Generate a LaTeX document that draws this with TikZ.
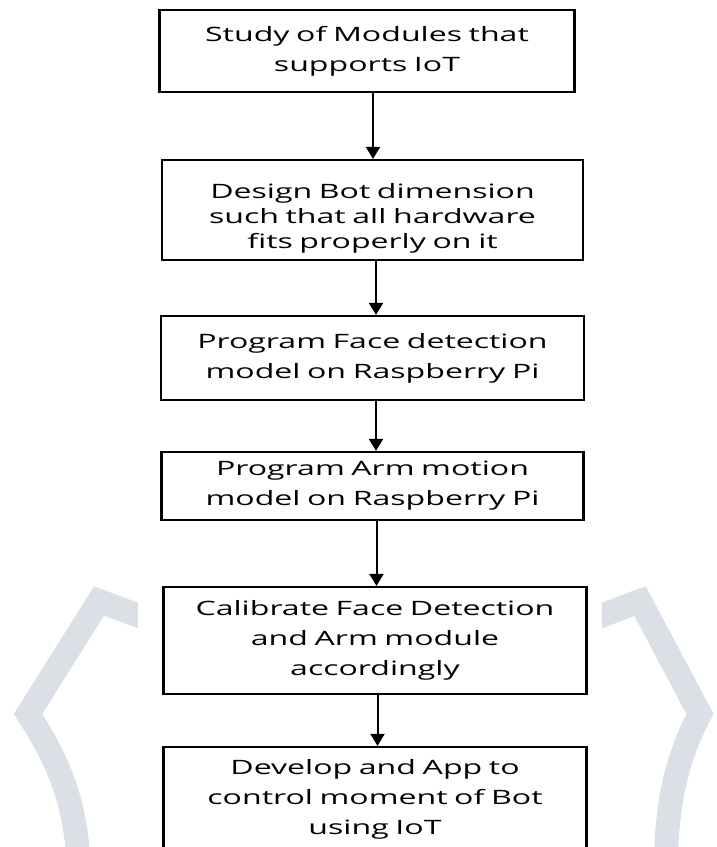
\documentclass[tikz,border=0pt]{standalone}
\usepackage{fontspec}
\setmainfont[FakeStretch=1.62]{Open Sans}
\usepackage{xcolor}
\usepackage{tikz}
\usetikzlibrary{arrows.meta, positioning}
\definecolor{markgray}{RGB}{218,224,229}

\begin{document}
\begin{tikzpicture}[
    x=1pt, y=-1pt,
    box/.style={rectangle, draw, line width=2.2pt, fill=white, text width=415pt, align=center, inner sep=0pt, font=\fontsize{19.8}{30}\selectfont},
    arrow/.style={line width=2pt, -{Triangle[width=14pt,length=12pt]}}
  ]
    \useasboundingbox (0,0) rectangle (717,847);
    \clip (0,0) rectangle (717,847);
    \fill[white] (0,0) rectangle (717,847);

    % watermark brackets behind the chart
    \draw[markgray, line width=24pt, line join=miter] (150,620) -- (99,601) -- (28,714) .. controls (55,755) and (76,800) .. (78,860);
    \draw[markgray, line width=24pt, line join=miter] (590,620) -- (640,601) -- (700,714) .. controls (678,755) and (667,800) .. (666,860);
    \fill[white] (138,0) rectangle (602,847);

    \node (study_modules) [box, minimum width=410pt, minimum height=82pt] at (367,51) {Study of Modules that\\ supports IoT};

    \node (design_bot) [box, minimum width=421pt, minimum height=100pt, below=65.8pt of study_modules, xshift=5.5pt, font=\fontsize{19.8}{25}\selectfont] {\rule{0pt}{31pt}Design Bot dimension\\ such that all hardware\\ fits properly on it};

    \node (face_model) [box, minimum width=423pt, minimum height=84pt, below=53.8pt of design_bot] {Program Face detection\\ model on Raspberry Pi};

    \node (arm_model) [box, minimum width=422pt, minimum height=68pt, below=49.8pt of face_model] {Program Arm motion\\ model on Raspberry Pi};

    \node (calibrate) [box, minimum width=423pt, minimum height=107pt, below=64.8pt of arm_model, xshift=2.5pt] {Calibrate Face Detection\\ and Arm module\\ accordingly};

    \node (app_iot) [box, minimum width=423pt, minimum height=104pt, below=50.8pt of calibrate] {Develop and App to\\ control moment of Bot\\ using IoT};

    \draw [arrow] (study_modules.south) ++(6,0) coordinate (s1) -- (s1 |- design_bot.north);
    \draw [arrow] (design_bot.south) ++(3.5,0) coordinate (s2) -- (s2 |- face_model.north);
    \draw [arrow] (face_model.south) ++(3.5,0) coordinate (s3) -- (s3 |- arm_model.north);
    \draw [arrow] (arm_model.south) ++(4,0) coordinate (s4) -- (s4 |- calibrate.north);
    \draw [arrow] (calibrate.south) ++(2.5,0) coordinate (s5) -- (s5 |- app_iot.north);

  \end{tikzpicture}
\end{document}
